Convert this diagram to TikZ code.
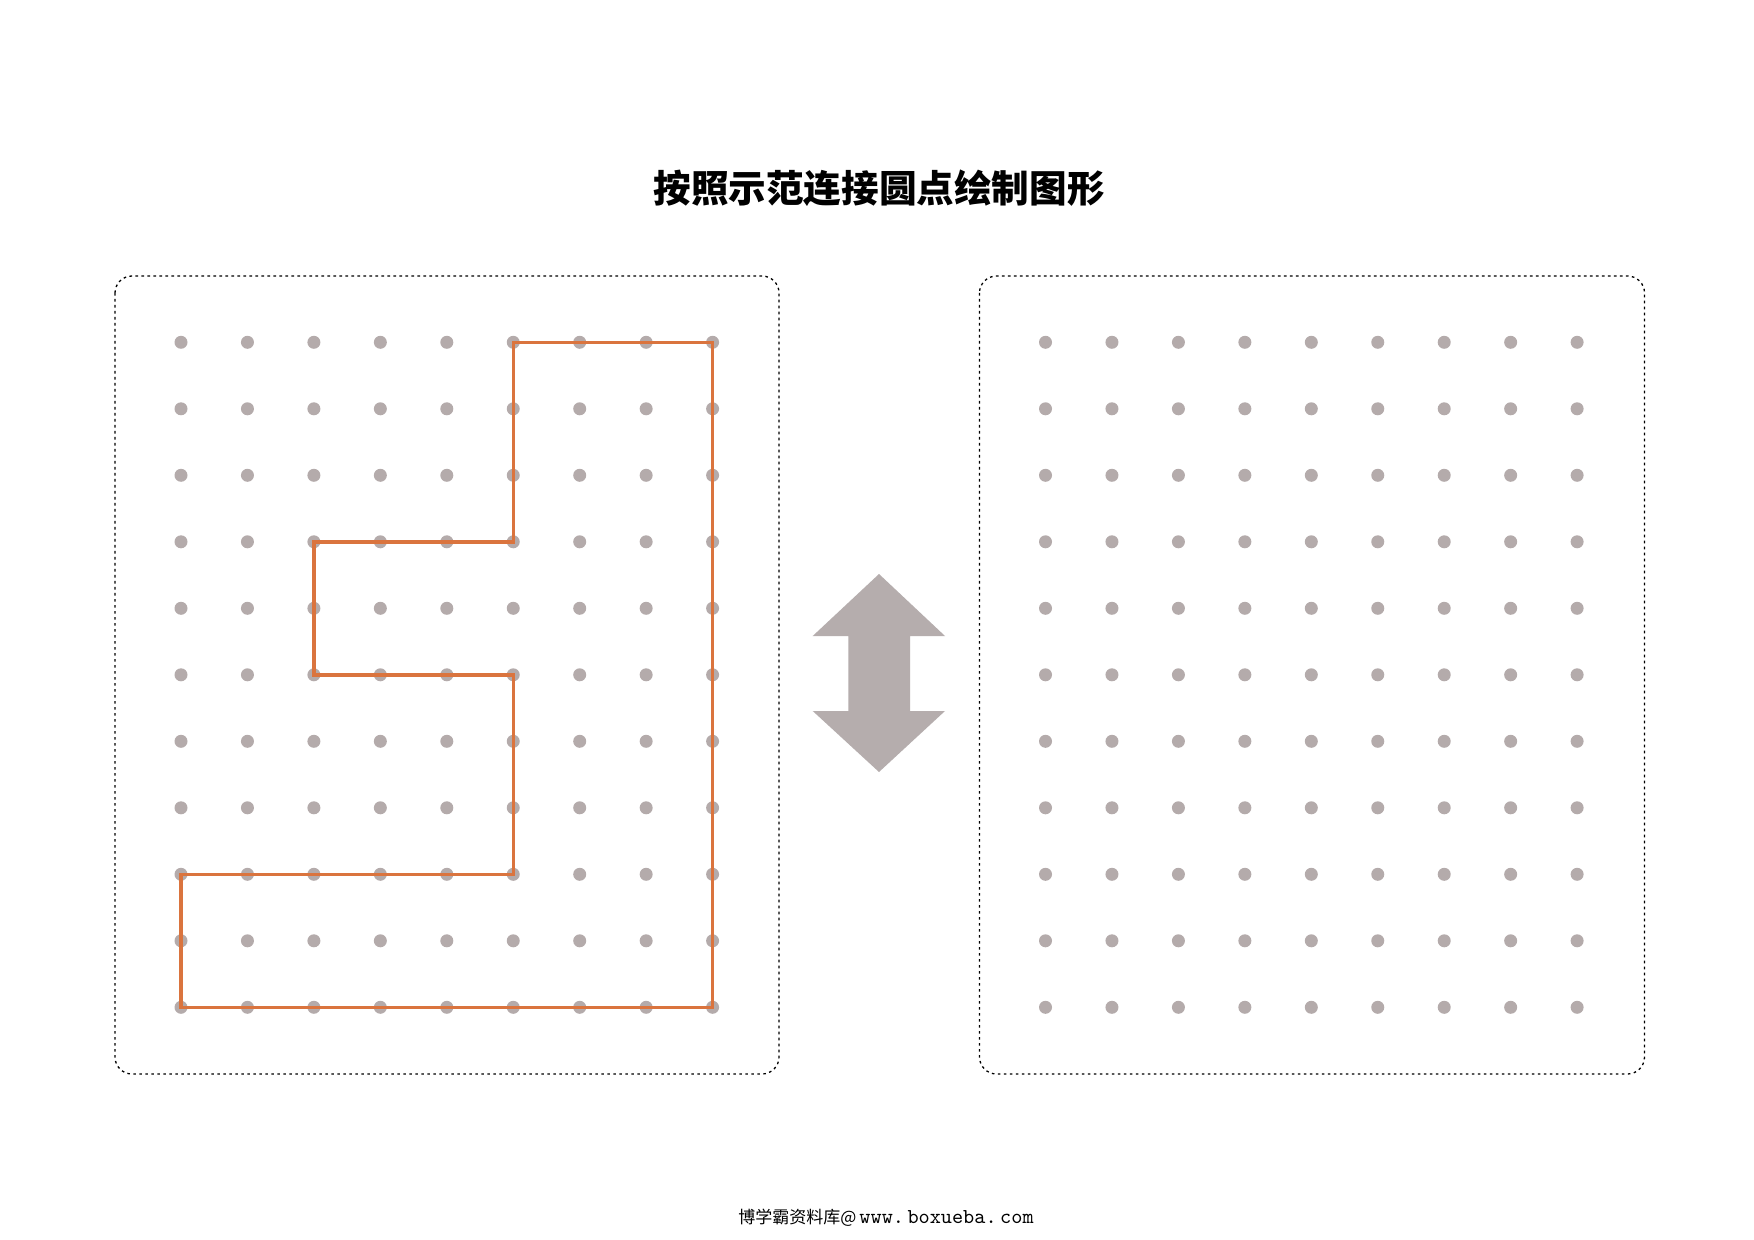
\documentclass[tikz,border=0pt]{standalone}
\usepackage{fontspec}
\newfontfamily\cjk{Noto Sans CJK SC}
\definecolor{dotgray}{RGB}{180,171,171}
\definecolor{arrowgray}{RGB}{181,173,173}
\definecolor{orangeline}{RGB}{218,116,62}
\begin{document}
\begin{tikzpicture}[x=0.5pt,y=-0.5pt,
  dot/.style={circle,fill=dotgray,inner sep=0pt,minimum size=6.5pt},
  frame/.style={draw=black,line width=0.65pt,dash pattern=on 1.3pt off 1.7pt,rounded corners=8.5pt},
  shapepath/.style={draw=orangeline,line width=1.7pt,line join=miter},
  titletext/.style={font=\cjk\bfseries\fontsize{18.8pt}{22pt}\selectfont},
  foottext/.style={anchor=west,inner sep=0pt}]
\useasboundingbox (0,0) rectangle (1754,1240);
\fill[white] (0,0) rectangle (1754,1240);
% title
\node[titletext] (title) at (879,188) {按照示范连接圆点绘制图形};
% frames
\draw[frame] (115,276) rectangle (779,1074);
\draw[frame] (979.5,276) rectangle (1644.5,1074);
% dot grids
\foreach \i in {0,...,8}{
  \foreach \j in {0,...,10}{
    \node[dot] (L-\i-\j) at ({181+66.45*\i},{342.3+66.5*\j}) {};
    \node[dot] (R-\i-\j) at ({1045.5+66.45*\i},{342.3+66.5*\j}) {};
  }
}
% example shape
\draw[shapepath] (L-5-0.center) -- (L-8-0.center) -- (L-8-10.center) -- (L-0-10.center)
  -- (L-0-8.center) -- (L-5-8.center) -- (L-5-5.center) -- (L-2-5.center)
  -- (L-2-3.center) -- (L-5-3.center) -- cycle;
% double arrow
\fill[arrowgray] (879,574) -- (945,636) -- (910,636) -- (910,711) -- (945,711)
  -- (879,772) -- (812.7,711) -- (848.3,711) -- (848.3,636) -- (812.7,636) -- cycle;
% footer
\node[foottext] (footer) at (738,1218) {{\cjk\fontsize{8.5pt}{10pt}\selectfont 博学霸资料库@\hspace{1.5pt}}{\ttfamily\fontsize{10.6pt}{12pt}\selectfont www.\hspace{1.8pt}boxueba.\hspace{1.8pt}com}};
\end{tikzpicture}
\end{document}
